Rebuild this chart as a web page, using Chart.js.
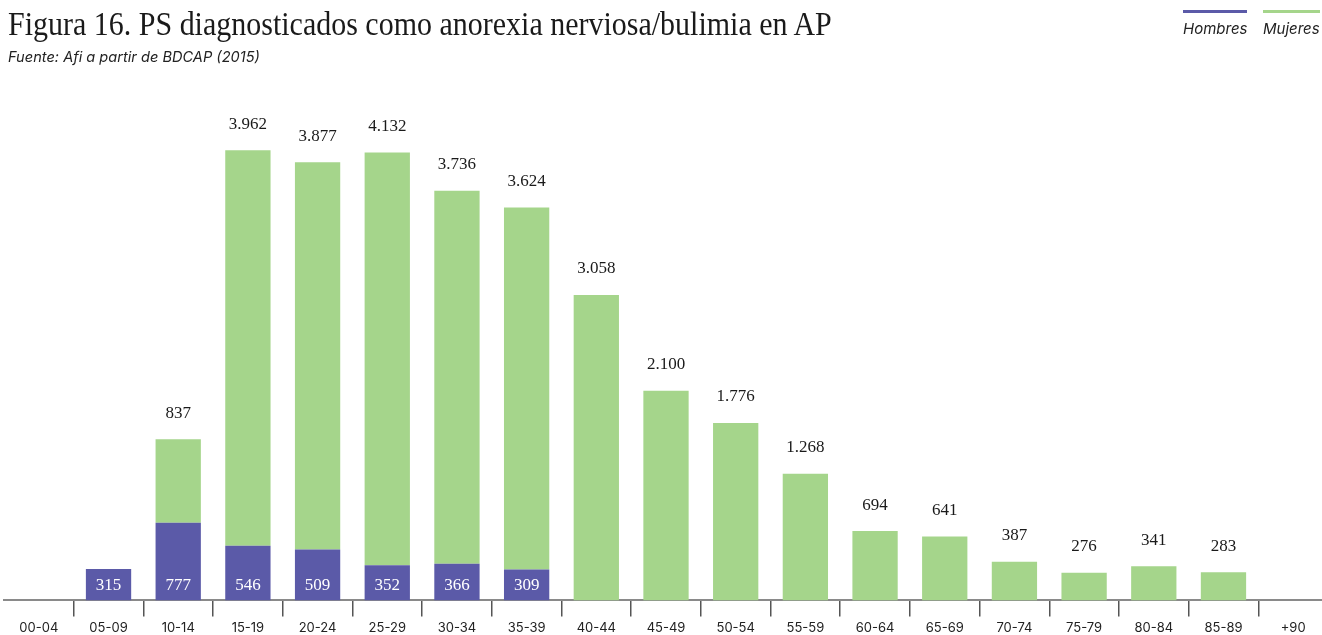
<!DOCTYPE html>
<html lang="es">
<head>
<meta charset="utf-8">
<title>Figura 16</title>
<script src="https://cdn.jsdelivr.net/npm/chart.js@4"></script>
<style>
  body { margin: 0; width: 1322px; height: 635px; overflow: hidden; background: #fff; position: relative; }
  #chart-box { position: absolute; left: 0; top: 0; }
  h1 { position: absolute; left: 8px; top: 5px; margin: 0; font: 400 34px "Liberation Serif", serif; color: #1a1a1a; white-space: nowrap; transform: scaleX(0.882); transform-origin: 0 0; }
  .source { position: absolute; left: 8px; top: 48px; font: italic 14.6px Inter, sans-serif; color: #222; }
  .legend { position: absolute; top: 10px; font: italic 15px Inter, sans-serif; color: #222; }
  .legend span { display: block; border-top: 3px solid; padding-top: 6px; }
</style>
</head>
<body>
<div id="chart-box"><canvas id="chart" width="1328" height="640"></canvas></div>
<h1>Figura 16. PS diagnosticados como anorexia nerviosa/bulimia en AP</h1>
<div class="source">Fuente: Afi a partir de BDCAP (2015)</div>
<div class="legend" style="left:1183px"><span style="border-color:#5b5aa8">Hombres</span></div>
<div class="legend" style="left:1263px"><span style="border-color:#a5d58b">Mujeres</span></div>
<script>
//age groups
const ageGroups = ["00-04", "05-09", "10-14", "15-19", "20-24", "25-29", "30-34", "35-39", "40-44", "45-49",
  "50-54", "55-59", "60-64", "65-69", "70-74", "75-79", "80-84", "85-89", "+90"];
//patients per group
const hombres = [0, 315, 777, 546, 509, 352, 366, 309, 0, 0, 0, 0, 0, 0, 0, 0, 0, 0, 0];
const mujeres = [0, 0, 837, 3962, 3877, 4132, 3736, 3624, 3058, 2100, 1776, 1268, 694, 641, 387, 276, 341, 283, 0];

const purple = "#5b5aa8";
const green = "#a5d58b";

//spanish thousands separator (3.962)
const fmt = (v) => String(v).replace(/\B(?=(\d{3})+(?!\d))/g, ".");

//Plugin that writes the values on the bars
const valueLabels = {
  id: "valueLabels",
  afterDatasetsDraw(chart) {
    const ctx = chart.ctx;
    ctx.save();
    ctx.font = '17px "Liberation Serif", serif';
    ctx.textAlign = "center";
    ctx.textBaseline = "middle";
    chart.getDatasetMeta(0).data.forEach((bar, i) => {
      if (!hombres[i]) return;
      ctx.fillStyle = "#ffffff";
      ctx.fillText(fmt(hombres[i]), bar.x, bar.base - 15);
    });
    chart.getDatasetMeta(1).data.forEach((bar, i) => {
      if (!mujeres[i]) return;
      ctx.fillStyle = "#1a1a1a";
      ctx.fillText(fmt(mujeres[i]), bar.x, bar.y - 26);
    });
    ctx.restore();
  },
};

new Chart(document.getElementById("chart"), {
  type: "bar",
  plugins: [valueLabels],
  data: {
    labels: ageGroups,
    datasets: [
      { label: "Hombres", data: hombres, backgroundColor: purple, barPercentage: 0.65, categoryPercentage: 1 },
      { label: "Mujeres", data: mujeres, backgroundColor: green, barPercentage: 0.65, categoryPercentage: 1 },
    ],
  },
  options: {
    responsive: false,
    animation: false,
    layout: { padding: { top: 101, left: 4, right: 0, bottom: 0 } },
    plugins: {
      legend: { display: false },
      tooltip: { enabled: false },
    },
    scales: {
      x: {
        stacked: true,
        border: { display: true, color: "#8a8a8a", width: 2 },
        grid: {
          offset: true,
          drawOnChartArea: false,
          tickLength: 16,
          lineWidth: 1.5,
          color: (c) => (c.index === 0 || c.index === ageGroups.length ? "rgba(0,0,0,0)" : "#555"),
        },
        ticks: { color: "#222", padding: 4, font: { family: "Inter", size: 13 }, maxRotation: 0, autoSkip: false },
      },
      y: { stacked: true, display: false, min: 0, max: 5000 },
    },
  },
});
</script>
</body>
</html>
